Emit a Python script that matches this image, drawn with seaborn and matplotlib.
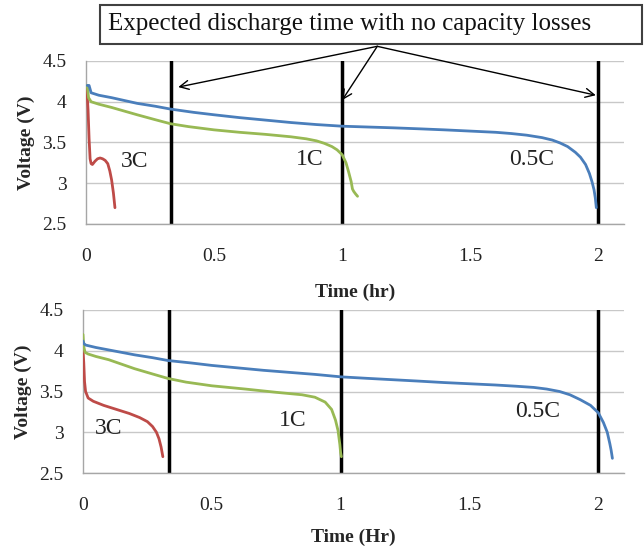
import numpy as np
import pandas as pd
import seaborn as sns
import matplotlib
matplotlib.use("Agg")
import matplotlib.pyplot as plt
from matplotlib.patches import Rectangle

sns.set_style("white")
plt.rcParams['font.family'] = ['Liberation Serif', 'DejaVu Serif']

# ---------------- data ----------------
# Top panel
top_05c_t = [0.005, 0.012, 0.02, 0.05, 0.1, 0.15, 0.2, 0.27, 0.33, 0.42, 0.5, 0.6, 0.7, 0.8, 0.9, 1.0,
             1.1, 1.2, 1.3, 1.4, 1.5, 1.6, 1.66, 1.72, 1.78, 1.82, 1.85, 1.88, 1.91, 1.93, 1.95,
             1.965, 1.975, 1.983, 1.988, 1.992]
top_05c_v = [4.2, 4.2, 4.11, 4.08, 4.05, 4.015, 3.98, 3.945, 3.91, 3.87, 3.84, 3.805, 3.775, 3.745,
             3.72, 3.70, 3.69, 3.68, 3.668, 3.655, 3.64, 3.625, 3.61, 3.59, 3.56, 3.53, 3.495,
             3.45, 3.38, 3.32, 3.23, 3.12, 3.02, 2.92, 2.82, 2.70]
top_1c_t = [0.005, 0.01, 0.02, 0.05, 0.1, 0.15, 0.2, 0.27, 0.33, 0.4, 0.5, 0.6, 0.7, 0.8, 0.86, 0.9,
            0.93, 0.96, 0.98, 1.0, 1.015, 1.025, 1.035, 1.04, 1.045, 1.052, 1.06]
top_1c_v = [4.2, 4.05, 4.0, 3.97, 3.93, 3.885, 3.84, 3.78, 3.73, 3.695, 3.655, 3.625, 3.60, 3.57,
            3.545, 3.52, 3.49, 3.45, 3.41, 3.35, 3.25, 3.14, 3.02, 2.93, 2.9, 2.87, 2.84]
top_3c_t = [0.003, 0.008, 0.012, 0.016, 0.02, 0.025, 0.035, 0.045, 0.055, 0.065, 0.075, 0.085,
            0.093, 0.1, 0.107, 0.113]
top_3c_v = [4.18, 3.9, 3.55, 3.3, 3.24, 3.23, 3.27, 3.3, 3.31, 3.30, 3.28, 3.24,
            3.15, 3.04, 2.88, 2.70]

# Bottom panel
bot_05c_t = [0.0, 0.003, 0.01, 0.05, 0.1, 0.15, 0.2, 0.27, 0.33, 0.42, 0.5, 0.6, 0.7, 0.8, 0.9, 1.0,
             1.1, 1.2, 1.3, 1.4, 1.5, 1.6, 1.68, 1.75, 1.8, 1.85, 1.89, 1.93, 1.97, 2.0, 2.02,
             2.035, 2.045, 2.05, 2.055]
bot_05c_v = [4.12, 4.09, 4.07, 4.04, 4.01, 3.98, 3.95, 3.915, 3.88, 3.85, 3.82, 3.79, 3.76, 3.735,
             3.71, 3.68, 3.662, 3.645, 3.628, 3.61, 3.595, 3.58, 3.565, 3.55, 3.53, 3.50, 3.46,
             3.40, 3.33, 3.24, 3.12, 3.0, 2.86, 2.78, 2.68]
bot_1c_t = [0.0, 0.003, 0.008, 0.02, 0.05, 0.1, 0.15, 0.2, 0.27, 0.33, 0.4, 0.5, 0.63, 0.75, 0.85,
            0.9, 0.94, 0.965, 0.98, 0.99, 0.997, 1.0, 1.003]
bot_1c_v = [4.2, 4.05, 3.98, 3.96, 3.93, 3.89, 3.835, 3.78, 3.715, 3.66, 3.615, 3.57, 3.53, 3.49,
            3.46, 3.43, 3.37, 3.28, 3.15, 3.02, 2.85, 2.75, 2.70]
bot_3c_t = [0.0, 0.003, 0.006, 0.01, 0.02, 0.04, 0.08, 0.13, 0.18, 0.22, 0.25, 0.27, 0.285,
            0.295, 0.303, 0.31]
bot_3c_v = [4.01, 3.85, 3.62, 3.5, 3.42, 3.38, 3.33, 3.28, 3.23, 3.18, 3.13, 3.07, 3.0,
            2.92, 2.82, 2.70]

expected_times = [1 / 3, 1.0, 2.0]
rate_labels = ["3C", "1C", "0.5C"]
top_label_pos = [(0.19, 3.27), (0.875, 3.29), (1.74, 3.29)]
bot_label_pos = [(0.10, 3.05), (0.816, 3.15), (1.764, 3.26)]
arrow_targets = [(0.36, 4.18), (1.0, 4.02), (1.99, 4.08)]
arrow_source = (1.137, 4.68)

x_ticks = [0, 0.5, 1, 1.5, 2]
x_tick_labels = ["0", "0.5", "1", "1.5", "2"]
y_ticks = [2.5, 3, 3.5, 4, 4.5]
y_tick_labels = ["2.5", "3", "3.5", "4", "4.5"]

colors = {"3C": "#BE4B48", "1C": "#98B954", "0.5C": "#4A7EBB"}

W, H = 644, 550
fig = plt.figure(figsize=(W / 100, H / 100), dpi=100)
ax_top = fig.add_axes([86 / W, 1 - 224 / H, 538 / W, 163 / H])
ax_bot = fig.add_axes([83 / W, 1 - 473 / H, 541 / W, 163 / H])


def style(ax, xlabel, xpad):
    ax.set_xlim(0, 2.1)
    ax.set_ylim(2.5, 4.5)
    ax.set_xticks(x_ticks)
    ax.set_xticklabels(x_tick_labels)
    ax.set_yticks(y_ticks)
    ax.set_yticklabels(y_tick_labels)
    ax.yaxis.grid(True, color="#c8c8c8", lw=1)
    ax.xaxis.grid(False)
    for s in ["top", "right"]:
        ax.spines[s].set_visible(False)
    for s in ["left", "bottom"]:
        ax.spines[s].set_color("#a6a6a6")
        ax.spines[s].set_linewidth(1)
    ax.tick_params(axis="both", which="both", direction="out", color="#a6a6a6",
                   length=5, width=1, labelsize=14, labelcolor="#222222")
    ax.tick_params(axis="y", pad=9)
    ax.tick_params(axis="x", pad=12)
    ax.set_xlabel(xlabel, fontsize=14, fontweight="bold", labelpad=xpad)
    ax.set_ylabel("Voltage (V)", fontsize=14, fontweight="bold", labelpad=5)
    ax.set_axisbelow(True)


def draw(ax, series, label_pos):
    for xv in expected_times:
        ax.axvline(xv, color="black", lw=2.5, zorder=2)
    for name, (t, v) in series.items():
        df = pd.DataFrame({"t": t, "v": v})
        sns.lineplot(data=df, x="t", y="v", ax=ax, color=colors[name], lw=2,
                     sort=False, estimator=None, zorder=3)
    for name, (x, y) in zip(rate_labels, label_pos):
        ax.text(x, y, name, fontsize=17, ha="center", va="center", color="#222222", zorder=4)


draw(ax_top, {"3C": (top_3c_t, top_3c_v), "1C": (top_1c_t, top_1c_v),
              "0.5C": (top_05c_t, top_05c_v)}, top_label_pos)
draw(ax_bot, {"3C": (bot_3c_t, bot_3c_v), "1C": (bot_1c_t, bot_1c_v),
              "0.5C": (bot_05c_t, bot_05c_v)}, bot_label_pos)
style(ax_top, "Time (hr)", 14)
style(ax_bot, "Time (Hr)", 11)

for tgt in arrow_targets:
    ax_top.annotate("", xy=tgt, xytext=arrow_source, annotation_clip=False,
                    arrowprops=dict(arrowstyle="->", color="black", lw=1,
                                    shrinkA=0, shrinkB=0, mutation_scale=16))

fig.add_artist(Rectangle((100 / W, 1 - 44 / H), 542 / W, 39 / H, transform=fig.transFigure,
                         facecolor="white", edgecolor="#404040", lw=1.5, zorder=5))
fig.text(108 / W, 1 - 24 / H, "Expected discharge time with no capacity losses",
         fontsize=18, ha="left", va="center", color="#111111", zorder=6)

fig.savefig("out.png", dpi=100)
